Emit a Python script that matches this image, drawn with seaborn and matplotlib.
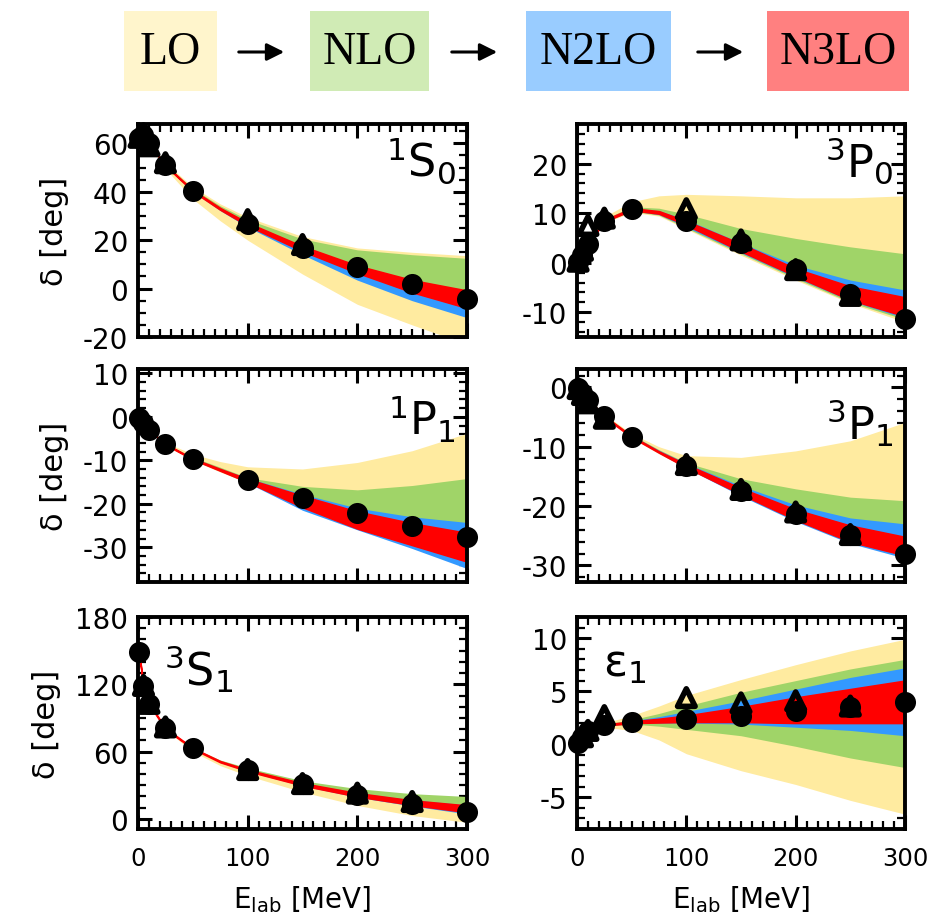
import numpy as np
import pandas as pd
import matplotlib
matplotlib.use("Agg")
import matplotlib.pyplot as plt
import seaborn as sns
from matplotlib.ticker import MultipleLocator
from matplotlib.patches import Rectangle, FancyArrowPatch

# ---------------- data ----------------
orders = ["LO", "NLO", "N2LO", "N3LO"]
E_grid = [1, 5, 10, 25, 50, 75, 100, 150, 200, 250, 300]
E_data = [1, 5, 10, 25, 50, 100, 150, 200, 250, 300]

# 1S0 bands (lower, upper)
s1s0_LO = ([61.8, 63.2, 59.3, 49.5, 37.0, 28.0, 20.0, 6.0, -6.5, -15.0, -23.0],
           [62.2, 63.9, 60.5, 52.0, 42.0, 35.0, 29.5, 21.5, 16.8, 15.0, 13.6])
s1s0_NLO = ([61.9, 63.4, 59.8, 50.7, 40.0, 32.4, 25.8, 15.5, 7.0, 1.0, -1.0],
            [62.2, 63.8, 60.3, 51.5, 41.3, 34.2, 28.5, 20.5, 16.0, 14.0, 12.5])
s1s0_N2LO = ([61.9, 63.4, 59.8, 50.7, 40.0, 32.2, 25.4, 14.0, 3.5, -5.0, -12.0],
             [62.1, 63.7, 60.1, 51.1, 40.6, 33.2, 27.0, 17.2, 9.0, 3.0, -1.0])
s1s0_N3LO = ([61.9, 63.4, 59.8, 50.8, 40.2, 32.6, 26.0, 15.5, 6.5, -1.5, -8.0],
             [62.1, 63.7, 60.1, 51.1, 40.7, 33.3, 27.2, 17.5, 9.5, 3.5, -0.8])
s1s0_circ = [62.1, 63.6, 60.0, 50.9, 40.5, 26.8, 16.9, 8.9, 2.0, -4.5]
s1s0_triE = [1, 5, 10, 25, 100, 150]
s1s0_tri = [62.5, 64.0, 59.0, 52.0, 28.5, 18.2]

# 3P0 bands
p3p0_LO = ([0.0, 1.4, 3.6, 8.0, 10.2, 9.4, 6.8, 1.5, -3.5, -8.2, -12.0],
           [0.2, 1.9, 4.3, 9.3, 12.3, 13.5, 13.8, 13.5, 13.1, 13.1, 13.5])
p3p0_NLO = ([0.05, 1.5, 3.7, 8.2, 10.4, 9.6, 7.0, 1.8, -3.2, -8.0, -11.5],
            [0.15, 1.7, 4.0, 8.8, 11.3, 11.0, 9.8, 6.9, 4.9, 3.2, 1.8])
p3p0_N2LO = ([0.05, 1.5, 3.7, 8.2, 10.5, 9.7, 7.2, 2.0, -3.0, -7.7, -11.2],
             [0.15, 1.7, 3.9, 8.6, 11.0, 10.5, 8.7, 4.0, -0.5, -3.5, -5.5])
p3p0_N3LO = ([0.05, 1.5, 3.7, 8.3, 10.6, 9.9, 7.6, 2.3, -2.7, -7.5, -10.8],
             [0.15, 1.7, 3.9, 8.6, 11.0, 10.4, 8.4, 3.8, -1.2, -4.8, -7.0])
p3p0_circ = [0.1, 1.6, 3.8, 8.4, 10.8, 8.4, 4.0, -1.3, -6.3, -11.3]
p3p0_triE = [1, 5, 10, 25, 100, 150, 200, 250]
p3p0_tri = [0.3, 2.5, 7.5, 9.0, 10.9, 4.6, -1.4, -6.6]

# 1P1 bands
p1p1_LO = ([-0.3, -1.6, -3.15, -6.6, -10.0, -12.7, -15.2, -19.5, -23.0, -25.5, -27.0],
           [-0.1, -1.4, -2.85, -5.9, -8.6, -10.3, -11.5, -12.0, -10.5, -7.8, -3.8])
p1p1_NLO = ([-0.25, -1.55, -3.1, -6.5, -9.9, -12.5, -14.9, -18.8, -21.5, -23.4, -24.5],
            [-0.15, -1.45, -2.9, -6.1, -9.3, -11.6, -14.0, -16.0, -16.8, -15.8, -14.2])
p1p1_N2LO = ([-0.25, -1.55, -3.05, -6.4, -9.9, -12.5, -15.2, -21.5, -26.0, -30.3, -34.9],
             [-0.15, -1.45, -2.95, -6.2, -9.5, -11.9, -14.1, -17.8, -21.0, -23.0, -24.3])
p1p1_N3LO = ([-0.25, -1.55, -3.05, -6.4, -9.8, -12.4, -15.0, -20.8, -25.7, -29.5, -33.3],
             [-0.15, -1.45, -2.95, -6.2, -9.6, -12.0, -14.3, -18.2, -21.8, -24.5, -26.7])
p1p1_circ = [-0.2, -1.5, -3.0, -6.3, -9.7, -14.5, -18.7, -22.2, -25.1, -27.6]
p1p1_triE = []
p1p1_tri = []

# 3P1 bands
p3p1_LO = ([-0.2, -1.0, -2.15, -5.1, -8.5, -11.2, -13.6, -18.0, -21.5, -24.0, -25.5],
           [0.0, -0.8, -1.8, -4.5, -7.8, -10.0, -11.5, -11.8, -10.7, -9.0, -5.9])
p3p1_NLO = ([-0.15, -0.95, -2.1, -5.0, -8.4, -11.0, -13.5, -17.8, -21.0, -23.0, -24.0],
            [-0.05, -0.85, -1.9, -4.7, -8.0, -10.5, -12.7, -15.4, -17.1, -18.5, -19.1])
p3p1_N2LO = ([-0.15, -0.95, -2.05, -5.0, -8.4, -11.1, -13.6, -18.3, -22.6, -26.3, -28.8],
             [-0.05, -0.85, -1.95, -4.8, -8.1, -10.6, -12.8, -16.6, -19.8, -22.0, -23.0])
p3p1_N3LO = ([-0.15, -0.95, -2.05, -5.0, -8.4, -11.0, -13.5, -18.0, -22.3, -26.0, -28.3],
             [-0.05, -0.85, -1.95, -4.8, -8.2, -10.8, -13.0, -17.0, -20.6, -23.3, -25.2])
p3p1_circ = [-0.1, -0.9, -2.1, -4.9, -8.3, -13.2, -17.4, -21.3, -24.8, -28.0]
p3p1_triE = [1, 5, 10, 25, 100, 150, 200, 250]
p3p1_tri = [-0.2, -1.2, -2.6, -5.2, -13.0, -17.2, -21.0, -24.8]

# 3S1 bands
s3s1_LO = ([147.0, 117.5, 102.0, 79.5, 60.0, 47.5, 38.5, 24.0, 12.0, 3.0, -3.0],
           [149.0, 119.5, 104.0, 81.5, 63.5, 52.0, 44.0, 32.0, 23.5, 17.0, 12.0])
s3s1_NLO = ([147.5, 118.0, 102.5, 80.0, 62.5, 50.6, 42.8, 30.0, 20.0, 13.0, 8.0],
            [148.5, 119.0, 103.5, 81.0, 63.5, 52.5, 45.5, 34.0, 27.0, 22.5, 20.0])
s3s1_N2LO = ([147.5, 118.0, 102.5, 80.0, 62.4, 50.3, 42.3, 29.4, 19.3, 11.5, 4.5],
             [148.5, 119.0, 103.5, 81.0, 63.2, 51.6, 44.0, 32.0, 23.3, 17.0, 12.5])
s3s1_N3LO = ([147.5, 118.0, 102.5, 80.0, 62.5, 50.5, 42.6, 29.8, 20.0, 12.5, 6.0],
             [148.5, 119.0, 103.5, 81.0, 63.2, 51.5, 43.8, 31.8, 23.0, 16.5, 12.0])
s3s1_circ = [148.7, 118.2, 102.6, 80.6, 62.8, 43.2, 30.7, 21.2, 13.4, 6.5]
s3s1_triE = [5, 10, 25, 100, 150, 200, 250]
s3s1_tri = [119.0, 103.0, 82.0, 44.0, 31.5, 23.0, 15.5]

# epsilon1 bands
e1_LO = ([0.05, 0.6, 1.0, 1.6, 1.3, 0.4, -0.9, -2.5, -3.8, -5.3, -6.6],
         [0.15, 0.75, 1.3, 2.0, 2.7, 3.6, 4.6, 6.1, 7.5, 8.8, 9.9])
e1_NLO = ([0.1, 0.65, 1.1, 1.7, 1.9, 1.7, 1.4, 0.8, -0.2, -1.3, -2.2],
          [0.1, 0.7, 1.25, 1.9, 2.3, 2.9, 3.6, 4.9, 6.0, 7.1, 8.0])
e1_N2LO = ([0.1, 0.65, 1.15, 1.75, 2.0, 2.0, 2.0, 1.9, 1.6, 1.3, 0.8],
           [0.1, 0.7, 1.2, 1.85, 2.2, 2.6, 3.1, 4.1, 5.2, 6.3, 7.2])
e1_N3LO = ([0.1, 0.65, 1.15, 1.75, 2.0, 2.05, 2.1, 2.1, 2.0, 2.0, 2.0],
           [0.1, 0.7, 1.2, 1.85, 2.15, 2.4, 2.7, 3.5, 4.4, 5.2, 6.0])
e1_circ = [0.1, 0.7, 1.2, 1.8, 2.1, 2.4, 2.7, 3.1, 3.5, 4.0]
e1_triE = [5, 10, 25, 100, 150, 200, 250]
e1_tri = [0.7, 1.3, 2.7, 4.4, 3.9, 4.1, 3.6]

panel_labels = [r"$^1$S$_0$", r"$^3$P$_0$", r"$^1$P$_1$", r"$^3$P$_1$", r"$^3$S$_1$", r"ε$_1$"]

# ---------------- style ----------------
sns.set_theme(style="ticks")
plt.rcParams["font.family"] = ["DejaVu Sans"]
plt.rcParams["mathtext.fontset"] = "dejavusans"
plt.rcParams["axes.unicode_minus"] = False
for key in ["text.color", "axes.labelcolor", "xtick.color", "ytick.color", "axes.edgecolor"]:
    plt.rcParams[key] = "black"

band_colors = ["#FFEBA0", "#A0D468", "#3399FF", "#FF0000"]
box_colors = ["#FFF5CC", "#D0EBB5", "#99CCFF", "#FF8080"]

W, H = 928, 920
fig = plt.figure(figsize=(W / 100, H / 100), dpi=100)

def px_axes(x0, x1, y0, y1):
    return fig.add_axes([x0 / W, 1 - y1 / H, (x1 - x0) / W, (y1 - y0) / H])

panels = [
    dict(bands=[s1s0_LO, s1s0_NLO, s1s0_N2LO, s1s0_N3LO], circ=s1s0_circ, triE=s1s0_triE, tri=s1s0_tri,
         ylim=(-20, 68), major=20, minor=5, box=(138, 467, 125, 338), lab=(0.965, 0.83, "right")),
    dict(bands=[p3p0_LO, p3p0_NLO, p3p0_N2LO, p3p0_N3LO], circ=p3p0_circ, triE=p3p0_triE, tri=p3p0_tri,
         ylim=(-15, 28), major=10, minor=2, box=(577, 905, 125, 338), lab=(0.965, 0.83, "right")),
    dict(bands=[p1p1_LO, p1p1_NLO, p1p1_N2LO, p1p1_N3LO], circ=p1p1_circ, triE=p1p1_triE, tri=p1p1_tri,
         ylim=(-38, 11), major=10, minor=2, box=(138, 467, 370, 583), lab=(0.965, 0.77, "right")),
    dict(bands=[p3p1_LO, p3p1_NLO, p3p1_N2LO, p3p1_N3LO], circ=p3p1_circ, triE=p3p1_triE, tri=p3p1_tri,
         ylim=(-32.8, 3.1), major=10, minor=2, box=(577, 905, 370, 583), lab=(0.965, 0.75, "right")),
    dict(bands=[s3s1_LO, s3s1_NLO, s3s1_N2LO, s3s1_N3LO], circ=s3s1_circ, triE=s3s1_triE, tri=s3s1_tri,
         ylim=(-9, 180), major=60, minor=10, box=(138, 467, 618, 830), lab=(0.08, 0.76, "left")),
    dict(bands=[e1_LO, e1_NLO, e1_N2LO, e1_N3LO], circ=e1_circ, triE=e1_triE, tri=e1_tri,
         ylim=(-8, 12), major=5, minor=1, box=(577, 905, 618, 830), lab=(0.08, 0.78, "left")),
]

for i, p in enumerate(panels):
    ax = px_axes(*p["box"])
    for k, (lo, hi) in enumerate(p["bands"]):
        if k == 3:
            ax.fill_between(E_grid, lo, hi, facecolor=band_colors[k], edgecolor=band_colors[k],
                            linewidth=1.2, zorder=2 + k)
        else:
            ax.fill_between(E_grid, lo, hi, facecolor=band_colors[k], linewidth=0, zorder=2 + k)
    if len(p["triE"]):
        sns.scatterplot(x=p["triE"], y=p["tri"], ax=ax, marker="^", s=160, color="black",
                        edgecolor="black", linewidth=4.0, zorder=8, clip_on=False, legend=False)
        ax.collections[-1].set_facecolor("none")
    sns.scatterplot(x=E_data, y=p["circ"], ax=ax, marker="o", s=230, color="black",
                    edgecolor="black", linewidth=0, zorder=9, clip_on=False, legend=False)

    ax.set_xlim(0, 300)
    ax.set_ylim(*p["ylim"])
    ax.xaxis.set_major_locator(MultipleLocator(100))
    ax.xaxis.set_minor_locator(MultipleLocator(10))
    ax.yaxis.set_major_locator(MultipleLocator(p["major"]))
    ax.yaxis.set_minor_locator(MultipleLocator(p["minor"]))
    ax.tick_params(which="both", direction="in", top=True, right=True, width=2.2, colors="black")
    ax.tick_params(axis="y", labelsize=20)
    ax.tick_params(axis="x", labelsize=17.5)
    ax.tick_params(which="major", length=10, pad=7)
    ax.tick_params(which="minor", length=5.5, width=1.6)
    ax.tick_params(axis="x", which="major", pad=12)
    for s in ax.spines.values():
        s.set_linewidth(2.8)
        s.set_color("black")
        s.set_zorder(10)
    if i < 4:
        ax.tick_params(labelbottom=False)
    else:
        ax.set_xlabel(r"E$_{\mathrm{lab}}$ [MeV]", fontsize=20, labelpad=10)
    if i % 2 == 0:
        ax.set_ylabel("δ [deg]", fontsize=22, labelpad=10)
    lx, ly, ha = p["lab"]
    ax.text(lx, ly, panel_labels[i], transform=ax.transAxes, fontsize=32, ha=ha, va="center",
            zorder=12)
    ax.set_facecolor("white")

# ---------------- order legend on top ----------------
boxes_px = [(124, 217), (310, 429), (526, 671), (767, 909)]
for (x0, x1), name, c in zip(boxes_px, orders, box_colors):
    fig.patches.append(Rectangle((x0 / W, 1 - 92 / H), (x1 - x0) / W, 80 / H,
                                 transform=fig.transFigure, facecolor=c, edgecolor="none"))
    fig.text((x0 + x1) / 2 / W, 1 - 53 / H, name, ha="center", va="center", fontsize=33,
             family=["Liberation Serif"], color="black")
arrows_px = [(236, 287), (449, 500), (695, 746)]
for x0, x1 in arrows_px:
    fig.add_artist(FancyArrowPatch(
        (x0 / W, 1 - 53 / H), (x1 / W, 1 - 53 / H), transform=fig.transFigure,
        arrowstyle="-|>", mutation_scale=26, linewidth=2.2, color="black"))

fig.savefig("out.png", dpi=100, facecolor="white")
